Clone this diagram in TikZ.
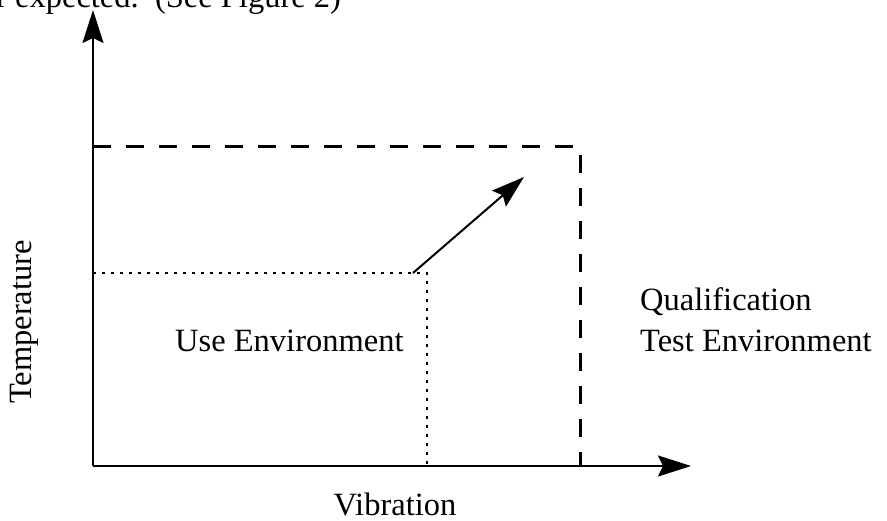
\documentclass[tikz,border=0pt]{standalone}
\usepackage{fontspec}
\setmainfont{Liberation Serif}
\usetikzlibrary{arrows.meta}
\begin{document}
\begin{tikzpicture}[x=1pt,y=-1pt,
  lbl/.style={inner sep=0pt,font=\fontsize{32.5}{41}\selectfont},
  axisline/.style={line width=2pt,-{Stealth[length=33pt,width=21pt,inset=5pt]}},
  qualline/.style={line width=3pt,dash pattern=on 18pt off 15pt},
  useline/.style={line width=2.6pt,dash pattern=on 2.6pt off 6.4pt}]
\useasboundingbox (0,0) rectangle (887,521);
\coordinate (O) at (93,466);
\coordinate (Ytip) at (93,10);
\coordinate (Xtip) at (691,466);
\coordinate (QTL) at (93,147);
\coordinate (QTR) at (580,147);
\coordinate (QBR) at (580,466);
\coordinate (UTL) at (93,273);
\coordinate (UTR) at (427,273);
\coordinate (UBR) at (427,466);
\coordinate (Astart) at (413,273);
\coordinate (Atip) at (524,177);
\draw[qualline] (QTL) -- (QTR) -- (QBR);
\draw[useline] (UTL) -- (UTR) -- (UBR);
\draw[axisline] (O) -- (Ytip);
\draw[axisline] (O) -- (Xtip);
\draw[axisline] (Astart) -- (Atip);
\node[lbl,anchor=base west] (top) at (-4,8) {r expected.\ \ (See Figure 2)};
\node[lbl,anchor=base west] (use) at (175,352) {Use Environment};
\node[lbl,anchor=base west,align=left] (qual) at (640,352) {Qualification\\Test Environment};
\node[lbl,rotate=90] (temp) at (24,322) {Temperature};
\node[lbl] (vib) at (395,504) {Vibration};
\end{tikzpicture}
\end{document}
